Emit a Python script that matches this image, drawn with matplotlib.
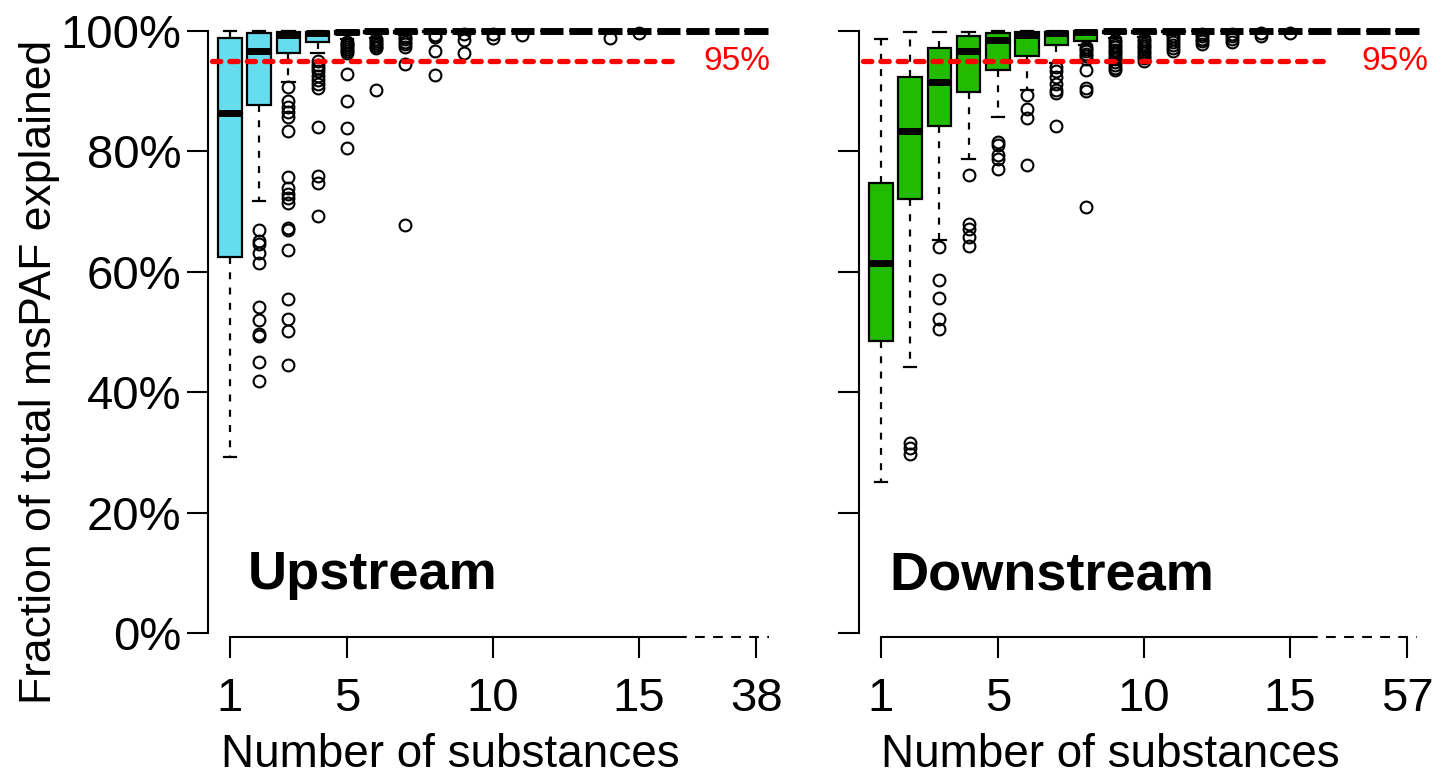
import matplotlib
matplotlib.use("Agg")
import matplotlib.pyplot as plt

plt.rcParams['font.family'] = ['Liberation Sans', 'DejaVu Sans']
plt.rcParams['lines.scale_dashes'] = False

positions = list(range(1, 20))
tick_pos = [1, 5, 10, 15, 19]
up_tick_labels = ["1", "5", "10", "15", "38"]
down_tick_labels = ["1", "5", "10", "15", "57"]
ytick_vals = [0, 20, 40, 60, 80, 100]
ytick_labels = ["0%", "20%", "40%", "60%", "80%", "100%"]
threshold = 95

# ---- Upstream (values in %) ----
up_q1 = [62.5, 87.7, 96.3, 98.1, 99.5, 99.6, 99.7, 99.8, 99.9] + [100] * 10
up_med = [86.4, 96.6, 99.4, 99.7, 99.9] + [100] * 14
up_q3 = [98.8, 99.7, 99.9, 99.9] + [100] * 15
up_wlo = [29.2, 71.8, 91.6, 96.3, 98.6, 98.8, 99.3, 99.6, 99.8] + [100] * 10
up_whi = [100] * 19
up_fliers = [
    [],
    [66.9, 65.2, 64.7, 63.2, 61.4, 54.2, 52.0, 49.6, 49.3, 45.0, 41.8],
    [90.7, 88.3, 87.3, 86.6, 85.7, 83.4, 75.8, 73.9, 73.0, 72.2, 71.5, 67.3, 66.9,
     63.7, 55.4, 52.2, 50.1, 44.6],
    [95.0, 94.3, 93.8, 93.3, 92.6, 91.9, 91.2, 90.6, 84.0, 75.9, 74.7, 69.3],
    [98.2, 97.9, 97.6, 97.3, 97.0, 96.7, 96.4, 92.9, 88.3, 83.9, 80.5],
    [98.6, 98.3, 98.0, 97.7, 97.4, 97.1, 90.2],
    [99.0, 98.6, 98.2, 97.8, 97.4, 94.6, 67.8],
    [99.3, 99.0, 96.6, 92.7],
    [99.5, 98.5, 96.3],
    [99.5, 98.8],
    [99.3],
    [], [],
    [98.8],
    [99.6],
    [], [], [], [],
]

# ---- Downstream (values in %) ----
down_q1 = [48.5, 72.1, 84.3, 89.8, 93.6, 95.8, 97.6, 98.4, 99.6, 99.7, 99.8] + [100] * 8
down_med = [61.4, 83.4, 91.5, 96.7, 98.5, 99.3, 99.7, 99.8] + [100] * 11
down_q3 = [74.7, 92.4, 97.2, 99.2, 99.6, 99.9, 99.9] + [100] * 12
down_wlo = [25.1, 44.2, 65.3, 78.7, 85.7, 90.2, 94.7, 97.7, 98.8, 99.0, 99.4] + [100] * 8
down_whi = [98.6, 99.8, 99.8, 99.8] + [100] * 15
down_fliers = [
    [],
    [31.5, 30.7, 29.7],
    [64.2, 58.6, 55.6, 52.1, 50.5],
    [76.0, 67.9, 67.1, 65.7, 64.3],
    [81.6, 81.1, 79.4, 78.7, 77.1],
    [89.4, 87.0, 85.6, 77.7],
    [94.1, 93.4, 92.4, 91.2, 90.2, 89.7, 84.2],
    [97.4, 97.0, 96.6, 96.2, 95.8, 95.4, 93.5, 90.5, 90.0, 70.8],
    [98.5, 98.1, 97.7, 97.3, 96.9, 96.5, 96.1, 95.7, 95.3, 94.9, 94.4, 93.9, 93.5],
    [98.7, 98.3, 97.9, 97.5, 97.1, 96.7, 96.3, 95.9, 95.5, 95.1],
    [99.2, 98.7, 98.2, 97.6, 97.1, 96.6],
    [99.5, 99.1, 98.7, 98.3, 97.8],
    [99.5, 99.1, 98.6, 98.2],
    [99.6, 99.2],
    [99.7],
    [], [], [], [],
]

W, H = 1436, 777
fig = plt.figure(figsize=(W / 100, H / 100), dpi=100)

XMIN, XMAX = 0.25, 19.75
YMIN, YMAX = -0.7, 101


def panel(ax, q1, med, q3, wlo, whi, fliers, color, ticklabels, title,
          title_x, solid_end, dash_end, pct_x, show_ylabels):
    stats = []
    for i in range(len(q1)):
        stats.append(dict(med=med[i], q1=q1[i], q3=q3[i], whislo=wlo[i],
                          whishi=whi[i], fliers=fliers[i]))
    ax.bxp(stats, positions=positions, widths=0.8, capwidths=0.42,
           patch_artist=True, manage_ticks=False,
           boxprops=dict(facecolor=color, edgecolor='black', linewidth=1.6),
           medianprops=dict(color='black', linewidth=5, solid_capstyle='butt'),
           whiskerprops=dict(color='black', linewidth=1.6, linestyle=(0, (5, 6))),
           capprops=dict(color='black', linewidth=1.6),
           flierprops=dict(marker='o', markerfacecolor='none',
                           markeredgecolor='black', markersize=8.5,
                           markeredgewidth=1.5))
    ax.set_xlim(XMIN, XMAX)
    ax.set_ylim(YMIN, YMAX)
    for s in ['top', 'right']:
        ax.spines[s].set_visible(False)
    ax.spines['left'].set_bounds(0, 100)
    ax.spines['bottom'].set_bounds(1, solid_end)
    for s in ['left', 'bottom']:
        ax.spines[s].set_linewidth(1.5)
    ax.plot([solid_end, dash_end], [YMIN, YMIN], color='black', lw=1.5,
            ls=(0, (7, 6)), clip_on=False)
    ax.set_xticks(tick_pos)
    ax.set_xticklabels(ticklabels)
    ax.set_yticks(ytick_vals)
    ax.set_yticklabels(ytick_labels)
    ax.tick_params(axis='x', length=15, width=1.5, pad=14, labelsize=34)
    ax.tick_params(axis='y', length=15, width=1.5, pad=4, labelsize=34,
                   labelleft=show_ylabels)
    ax.plot([XMIN + 0.15, 16.3], [threshold, threshold], color='#FF0000', lw=3.8,
            ls=(0, (6, 6.5)), dash_capstyle='round')
    ax.text(pct_x, threshold, "95%", color='#FF0000', fontsize=24,
            ha='right', va='center')
    ax.text(title_x, 7.3, title, fontsize=39, fontweight='bold',
            ha='left', va='baseline')


ax1 = fig.add_axes([208 / W, 1 - 637.2 / H, 570 / W, 612.2 / H])
panel(ax1, up_q1, up_med, up_q3, up_wlo, up_whi, up_fliers, '#66DDEE',
      up_tick_labels, "Upstream", 1.62, 16.3, 19.45, 19.5, True)

ax2 = fig.add_axes([859 / W, 1 - 637.2 / H, 570 / W, 612.2 / H])
panel(ax2, down_q1, down_med, down_q3, down_wlo, down_whi, down_fliers, '#22BB00',
      down_tick_labels, "Downstream", 1.3, 15.6, 19.35, 19.72, False)

fig.text(40 / W, 1 - 372 / H, "Fraction of total msPAF explained", rotation=90,
         fontsize=32, ha='center', va='center')
fig.text(450 / W, 1 - 755 / H, "Number of substances", fontsize=33,
         ha='center', va='center')
fig.text(1110 / W, 1 - 755 / H, "Number of substances", fontsize=33,
         ha='center', va='center')

fig.savefig("out.png", dpi=100)
